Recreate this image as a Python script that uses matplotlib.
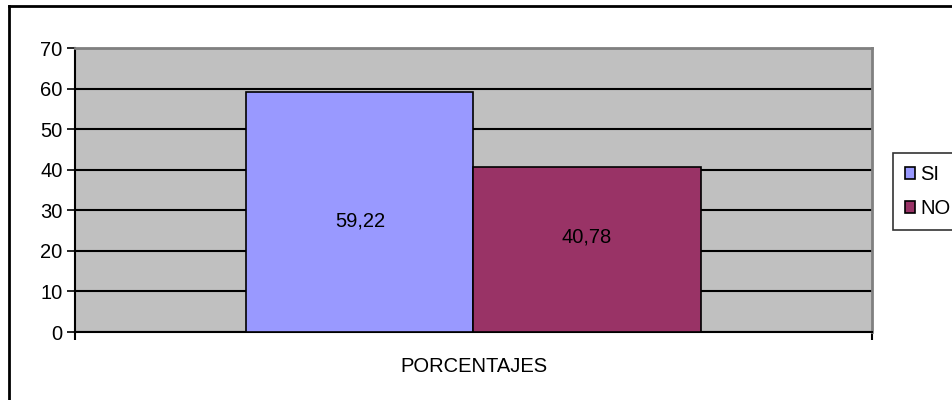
import matplotlib
matplotlib.use("Agg")
import matplotlib.pyplot as plt
from matplotlib.patches import Rectangle
from matplotlib.lines import Line2D

plt.rcParams['font.family'] = ['Liberation Sans', 'DejaVu Sans']

categoria = "PORCENTAJES"
series = ["SI", "NO"]
valores = [59.22, 40.78]
etiquetas = ["59,22", "40,78"]
colores = ["#9999FF", "#993366"]
yticks = [0, 10, 20, 30, 40, 50, 60, 70]

W, H = 953, 400
fig = plt.figure(figsize=(W / 100, H / 100), dpi=100)
ax = fig.add_axes([75 / W, 1 - 332 / H, (872 - 75) / W, (332 - 48) / H])
ax.set_facecolor("#C0C0C0")

# bars sit side by side in the middle of the single category
ancho = 0.285
x0 = 0.5 - ancho
for i, (v, c) in enumerate(zip(valores, colores)):
    ax.bar(x0 + i * ancho, v, width=ancho, align="edge", color=c,
           edgecolor="black", linewidth=1.2, zorder=3)

# value labels (Excel puts them slightly off the bar middle)
desfase = [-2.3, 3.1]
for i, (v, t) in enumerate(zip(valores, etiquetas)):
    ax.text(x0 + (i + 0.5) * ancho, v / 2 + desfase[i], t, ha="center",
            va="center", fontsize=14.5, zorder=4)

ax.set_xlim(0, 1)
ax.set_ylim(0, 70)
ax.set_yticks(yticks)
ax.tick_params(axis="y", labelsize=14.5, length=6, width=1.2, pad=3)
ax.yaxis.grid(True, color="black", linewidth=1.5, zorder=1)
ax.set_axisbelow(True)

ax.set_xticks([0.5])
ax.set_xticklabels([categoria])
ax.set_xticks([0, 1], minor=True)
ax.tick_params(axis="x", which="major", length=0, labelsize=14.5, pad=18)
ax.tick_params(axis="x", which="minor", length=6, width=1.5)

for s in ["top", "right"]:
    ax.spines[s].set_color("#808080")
    ax.spines[s].set_linewidth(2)
for s in ["left", "bottom"]:
    ax.spines[s].set_color("black")
    ax.spines[s].set_linewidth(1.5)

handles = [Rectangle((0, 0), 1, 1, facecolor=c, edgecolor="black", linewidth=1.2)
           for c in colores]
leg = fig.legend(handles, series, loc="upper left",
                 bbox_to_anchor=(893 / W, 1 - 153 / H), fontsize=14.5,
                 frameon=True, fancybox=False, handlelength=0.5,
                 handleheight=0.5, handletextpad=0.25, labelspacing=0.75,
                 borderpad=0.6, borderaxespad=0)
leg.get_frame().set_edgecolor("black")
leg.get_frame().set_linewidth(1.2)

# outer chart border (cut off at right and bottom)
fig.add_artist(Line2D([9 / W, 9 / W], [0, 1 - 6 / H], color="black", linewidth=2))
fig.add_artist(Line2D([9 / W, 1], [1 - 6 / H, 1 - 6 / H], color="black", linewidth=2))

fig.savefig("out.png", dpi=100)
